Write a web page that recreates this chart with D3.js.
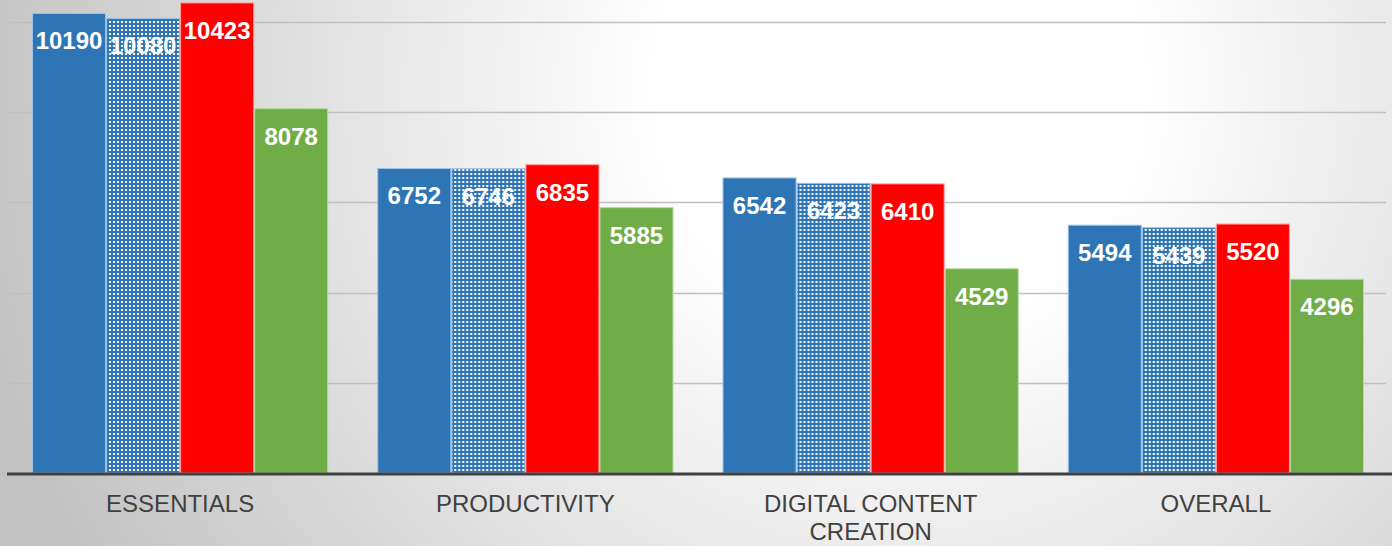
<!DOCTYPE html>
<html lang="en">
<head>
  <meta charset="UTF-8">
  <title>Benchmark scores</title>
  <script src="https://d3js.org/d3.v7.min.js"></script>
  <style>
    body { margin: 0; padding: 0; overflow: hidden; }
    svg { display: block; }
    .bar-label { font-family: "Liberation Sans", Arial, sans-serif; font-weight: bold; font-size: 24px; fill: #fff; }
    .cat-label { font-family: "Liberation Sans", Arial, sans-serif; font-size: 24px; fill: #404040; }
  </style>
</head>
<body>
  <div id="chart"></div>
  <script>
    const width = 1392;
    const height = 546;

    // data
    const categories = ["ESSENTIALS", "PRODUCTIVITY", "DIGITAL CONTENT|CREATION", "OVERALL"];
    const seriesA = [10190, 6752, 6542, 5494];   // solid blue
    const seriesB = [10080, 6746, 6423, 5439];   // dotted blue
    const seriesC = [10423, 6835, 6410, 5520];   // red
    const seriesD = [8078, 5885, 4529, 4296];    // green
    const yTicks = [0, 2000, 4000, 6000, 8000, 10000];

    const series = [
      { key: "a", values: seriesA, fill: "#2E75B6", stroke: "#9dc3e6" },
      { key: "b", values: seriesB, fill: "url(#dots)", stroke: "#9dc3e6" },
      { key: "c", values: seriesC, fill: "#FF0000", stroke: "#ff9b9b" },
      { key: "d", values: seriesD, fill: "#70AD47", stroke: "#b5dca0" }
    ];

    const svg = d3.select("#chart").append("svg")
      .attr("width", width)
      .attr("height", height);

    const defs = svg.append("defs");
    const grad = defs.append("radialGradient")
      .attr("id", "bg")
      .attr("gradientUnits", "userSpaceOnUse")
      .attr("cx", 900).attr("cy", 90).attr("r", 950);
    grad.append("stop").attr("offset", "0").attr("stop-color", "#ffffff");
    grad.append("stop").attr("offset", "0.25").attr("stop-color", "#ffffff");
    grad.append("stop").attr("offset", "1").attr("stop-color", "#c2c2c2");

    const pat = defs.append("pattern")
      .attr("id", "dots")
      .attr("patternUnits", "userSpaceOnUse")
      .attr("width", 4).attr("height", 4);
    pat.append("rect").attr("width", 4).attr("height", 4).attr("fill", "#2E75B6");
    pat.append("rect").attr("x", 1).attr("y", 1).attr("width", 2).attr("height", 2).attr("fill", "#ffffff");

    svg.append("rect").attr("width", width).attr("height", height).attr("fill", "url(#bg)");

    const x0 = d3.scaleBand()
      .domain(categories)
      .range([7.5, 1388.5])
      .paddingInner(0.142)
      .paddingOuter(0.071);

    const x1 = d3.scaleBand()
      .domain(series.map(s => s.key))
      .range([0, x0.bandwidth()]);

    const y = d3.scaleLinear()
      .domain([0, 10000])
      .range([473, 22]);

    // gridlines
    svg.append("g")
      .selectAll("line")
      .data(yTicks.filter(t => t > 0))
      .join("line")
      .attr("x1", 7).attr("x2", 1386)
      .attr("y1", d => Math.round(y(d)) + 0.5)
      .attr("y2", d => Math.round(y(d)) + 0.5)
      .attr("stroke", "#bfbfbf")
      .attr("stroke-width", 1.5);

    const groups = svg.append("g")
      .selectAll("g")
      .data(categories)
      .join("g")
      .attr("transform", d => `translate(${x0(d)},0)`);

    groups.each(function(cat, i) {
      const g = d3.select(this);
      series.forEach(s => {
        const v = s.values[i];
        g.append("rect")
          .attr("x", x1(s.key) + 0.5)
          .attr("y", y(v))
          .attr("width", x1.bandwidth() - 1)
          .attr("height", y(0) - y(v))
          .attr("fill", s.fill)
          .attr("stroke", s.stroke)
          .attr("stroke-width", 1);
        g.append("text")
          .attr("class", "bar-label")
          .attr("x", x1(s.key) + x1.bandwidth() / 2)
          .attr("y", y(v) + 36)
          .attr("text-anchor", "middle")
          .text(v);
      });
    });

    // baseline
    svg.append("line")
      .attr("x1", 7).attr("x2", 1392)
      .attr("y1", y(0) + 1).attr("y2", y(0) + 1)
      .attr("stroke", "#404040")
      .attr("stroke-width", 3);

    // category labels
    const labels = svg.append("g")
      .selectAll("text")
      .data(categories)
      .join("text")
      .attr("class", "cat-label")
      .attr("text-anchor", "middle")
      .attr("x", d => x0(d) + x0.bandwidth() / 2)
      .attr("y", 512);
    labels.each(function(d) {
      const lines = d.split("|");
      const t = d3.select(this);
      lines.forEach((l, k) => {
        t.append("tspan")
          .attr("x", t.attr("x"))
          .attr("dy", k === 0 ? 0 : 28)
          .text(l);
      });
    });
  </script>
</body>
</html>
